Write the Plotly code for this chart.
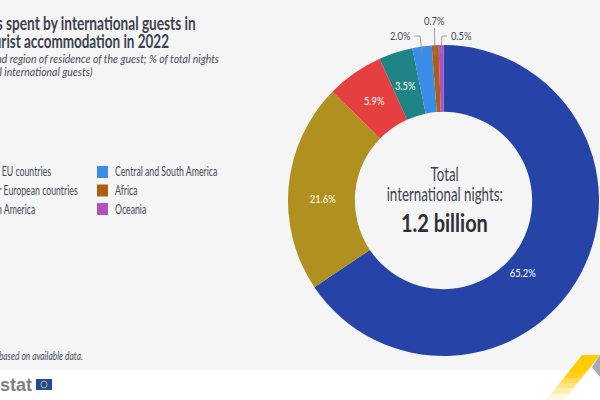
import json
import plotly.graph_objects as go

regions = ["Other EU countries", "Other European countries", "North America", "Asia",
           "Central and South America", "Africa", "Oceania"]
shares = [65.2, 21.6, 5.9, 3.5, 2.0, 0.7, 0.5]
colors = ["#2644A8", "#B0911F", "#E5403F", "#208486", "#3A8DE8", "#AD5F16", "#B450BE"]

W, H = 600, 400
FONT = "Lato"
INK = "#444a58"
BG = "#f5f5f5"
def px(x): return x / W
def py(y): return 1 - y / H

fig = go.Figure(go.Pie(
    labels=regions, values=shares, sort=False, direction="clockwise", rotation=0,
    hole=0.57, marker=dict(colors=colors, line=dict(width=0)), textinfo="none",
    hoverinfo="label+percent", showlegend=False,
    domain=dict(x=[px(288), px(599)], y=[py(356), py(45)]),
))

ann = []
squeeze = []
def text(x, y, t, size, color=INK, anchor="left", bold=False, italic=False, font=FONT, s=0.78):
    if bold: t = f"<b>{t}</b>"
    if italic: t = f"<i>{t}</i>"
    ann.append(dict(x=px(x), y=py(y), xref="paper", yref="paper", text=t, showarrow=False,
                    xanchor=anchor, yanchor="middle", align=anchor,
                    font=dict(family=font, size=size, color=color)))
    squeeze.append([anchor, s])

text(198, 23, "Nights spent by international guests in", 18, "#3c4250", "right", bold=True, s=0.76)
text(171, 41, "EU tourist accommodation in 2022", 18, "#3c4250", "right", bold=True, s=0.75)
text(221, 59, "(by country and region of residence of the guest; % of total nights", 12, INK, "right", italic=True, s=0.87)
text(94, 71, "spent by all international guests)", 12, INK, "right", italic=True, s=0.87)

legend_left = [(0, 53, 172), (1, 80, 190.5), (2, 37, 209)]
for i, xr, y in legend_left:
    text(xr, y, regions[i], 12.5, INK, "right", s=0.7)
legend_right = [(4, 172), (5, 190.5), (6, 209)]
shapes = [
    dict(type="rect", xref="paper", yref="paper", x0=0, x1=1, y0=py(370), y1=1,
         fillcolor=BG, line_width=0, layer="below"),
]
for i, y in legend_right:
    shapes.append(dict(type="rect", xref="paper", yref="paper", x0=px(97), x1=px(108),
                       y0=py(y - 6), y1=py(y + 6), fillcolor=colors[i], line_width=0))
    text(113, y, regions[i], 12.5, s=0.7)

text(85, 356, "Note: shares are based on available data.", 10.5, INK, "right", italic=True, s=0.8)

value_pos = [(523, 272, "white"), (323, 198, "white"), (374, 101, "white"), (405, 85, "white"),
             (400, 35, INK), (434, 20, INK), (461, 35, INK)]
for v, (x, y, c) in zip(shares, value_pos):
    text(x, y, f"{v}%", 12, c, "center", s=0.78)

text(444.5, 174, "Total", 18.5, "#3c4250", "center", s=0.72)
text(444.5, 194, "international nights:", 18.5, "#3c4250", "center", s=0.72)
text(444.5, 222, "1.2 billion", 25, "#2b2f3a", "center", bold=True, s=0.8)

for pts in [[(414, 36), (420, 36), (422, 54)], [(434.5, 28), (435, 55)], [(447, 36), (442, 36), (441, 54)]]:
    path = "M " + " L ".join(f"{px(x)} {py(y)}" for x, y in pts)
    shapes.append(dict(type="path", xref="paper", yref="paper", path=path,
                       line=dict(color="#8a8a8a", width=0.8)))

text(34, 385, "eurostat", 18, "#7d7f85", "right", bold=True, font="Liberation Sans", s=1.0)
shapes.append(dict(type="rect", xref="paper", yref="paper", x0=px(36), x1=px(52),
                   y0=py(390), y1=py(379), fillcolor="#1f4a9c", line_width=0))
shapes.append(dict(type="circle", xref="paper", yref="paper", x0=px(41), x1=px(47),
                   y0=py(388), y1=py(381), fillcolor="rgba(0,0,0,0)", line=dict(color="#d9c13a", width=1)))

# corner ribbon
shapes.append(dict(type="path", xref="paper", yref="paper",
                   path=f"M {px(600)} {py(355)} L {px(592)} {py(367)} L {px(600)} {py(377)} Z",
                   fillcolor="#a9abb2", line_width=0))
ribbon = [(355, 372, "#ffcc00"), (372, 378, "#ffd025"), (378, 383, "#ffda55"),
          (383, 388, "#ffe484"), (388, 394, "#ffeeb0"), (394, 400, "#fff8e0")]
def xl(y): return 582 - (y - 355) * 0.8
wid = 18
for y0, y1, c in ribbon:
    shapes.append(dict(type="path", xref="paper", yref="paper",
                       path=f"M {px(xl(y0))} {py(y0)} L {px(xl(y0)+wid)} {py(y0)} L {px(xl(y1)+wid)} {py(y1)} L {px(xl(y1))} {py(y1)} Z",
                       fillcolor=c, line_width=0))

fig.update_layout(width=W, height=H, margin=dict(l=0, r=0, t=0, b=0),
                  paper_bgcolor="white", plot_bgcolor="white",
                  annotations=ann, shapes=shapes)

# Horizontal condensing of the annotations (the installed fonts have no narrow cut).
post = """
document.body.style.margin='0';document.body.style.overflow='hidden';
var sq=%s;
document.querySelectorAll('g.annotation').forEach(function(g){
  var i=+g.getAttribute('data-index'),t=g.querySelector('text');
  if(!t||!sq[i])return;
  var b=t.getBBox(),a=sq[i][0],s=sq[i][1];
  var ax=a==='right'?b.x+b.width:(a==='center'?b.x+b.width/2:b.x);
  t.setAttribute('transform','translate('+ax+',0) scale('+s+',1) translate('+(-ax)+',0)');
});
""" % json.dumps(squeeze)
fig.write_html("out.html", config=dict(displayModeBar=False), post_script=post)
